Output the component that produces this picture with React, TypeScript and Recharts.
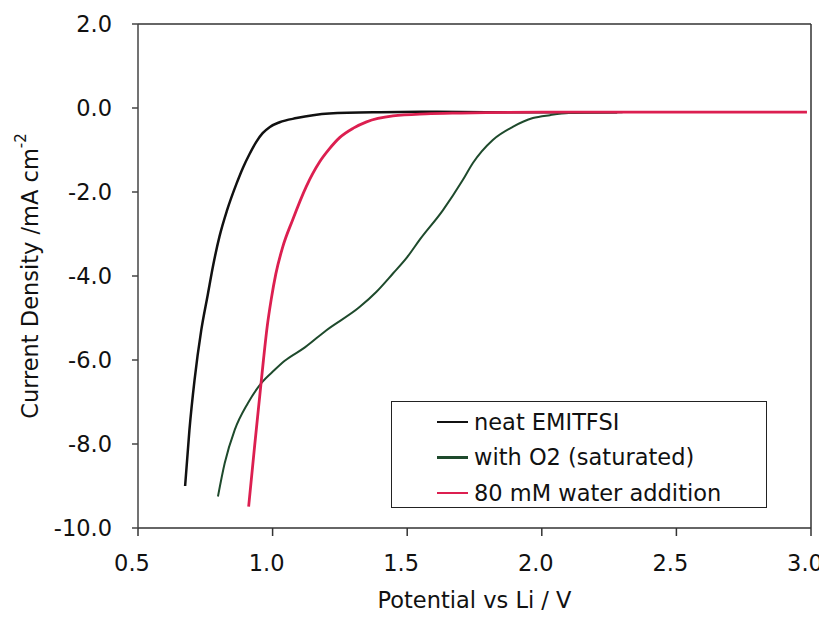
import { LineChart, Line, XAxis, YAxis, ReferenceLine } from "recharts";

const FONT = "'DejaVu Sans', sans-serif";

// neat EMITFSI
const neatPotential = [0.675, 0.691, 0.71, 0.735, 0.759, 0.78, 0.803, 0.83, 0.866, 0.89, 0.914, 0.94, 0.963, 0.99, 1.026, 1.089, 1.15, 1.21, 1.4, 1.6, 1.8, 2.0, 2.28];
const neatCurrent = [-9.0, -7.67, -6.48, -5.29, -4.45, -3.72, -3.05, -2.45, -1.8, -1.42, -1.1, -0.8, -0.6, -0.45, -0.34, -0.24, -0.17, -0.13, -0.1, -0.09, -0.1, -0.1, -0.1];

// with O2 (saturated)
const o2Potential = [0.797, 0.822, 0.859, 0.908, 0.958, 1.007, 1.045, 1.12, 1.2, 1.323, 1.385, 1.447, 1.5, 1.546, 1.633, 1.707, 1.744, 1.818, 1.892, 1.967, 2.03, 2.1, 2.3];
const o2Current = [-9.25, -8.46, -7.67, -7.03, -6.55, -6.24, -6.02, -5.7, -5.29, -4.74, -4.38, -3.94, -3.55, -3.14, -2.43, -1.71, -1.31, -0.76, -0.45, -0.24, -0.17, -0.12, -0.1];

// 80 mM water addition
const waterPotential = [0.911, 0.933, 0.952, 0.966, 0.98, 0.995, 1.012, 1.038, 1.074, 1.125, 1.175, 1.21, 1.25, 1.3, 1.349, 1.447, 1.57, 1.7, 2.0, 2.5, 2.985];
const waterCurrent = [-9.49, -8.06, -6.87, -6.0, -5.2, -4.55, -3.95, -3.3, -2.67, -1.87, -1.28, -0.98, -0.7, -0.48, -0.33, -0.19, -0.14, -0.12, -0.1, -0.1, -0.1];

const xTicks = [0.5, 1.0, 1.5, 2.0, 2.5, 3.0];
const yTicks = [-10, -8, -6, -4, -2, 0, 2];

const seriesNames = ["neat EMITFSI", "with O2 (saturated)", "80 mM water addition"];
const seriesColors = ["#111111", "#1e4a2c", "#dc1f50"];

const zip = (xs: number[], ys: number[]) => xs.map((x, i) => ({ x, y: ys[i] }));

const series = [
  { name: seriesNames[0], color: seriesColors[0], width: 2.5, data: zip(neatPotential, neatCurrent) },
  { name: seriesNames[1], color: seriesColors[1], width: 2, data: zip(o2Potential, o2Current) },
  { name: seriesNames[2], color: seriesColors[2], width: 2.8, data: zip(waterPotential, waterCurrent) },
];

const tickStyle = { fontFamily: FONT, fontSize: 22.5, fill: "#111" };

function YLabel({ viewBox }: any) {
  const cx = viewBox.x + 22;
  const cy = viewBox.y + viewBox.height / 2;
  return (
    <text
      x={cx}
      y={cy}
      transform={`rotate(-90, ${cx}, ${cy})`}
      textAnchor="middle"
      dominantBaseline="central"
      fontFamily={FONT}
      fontSize={22.5}
      fill="#111"
    >
      Current Density /mA cm
      <tspan dy={-9} fontSize={15}>-2</tspan>
    </text>
  );
}

function XLabel({ viewBox }: any) {
  return (
    <text
      x={viewBox.x + viewBox.width / 2}
      y={viewBox.y + 72}
      textAnchor="middle"
      dominantBaseline="central"
      fontFamily={FONT}
      fontSize={22.5}
      fill="#111"
    >
      Potential vs Li / V
    </text>
  );
}

function LegendBox() {
  return (
    <div
      style={{
        position: "absolute",
        left: 383,
        top: 393,
        width: 376,
        height: 107,
        border: "1.5px solid #222",
        background: "#fff",
        fontFamily: FONT,
        fontSize: 22.5,
        color: "#111",
        boxSizing: "border-box",
        paddingTop: 2,
      }}
    >
      {series.map((s) => (
        <div key={s.name} style={{ display: "flex", alignItems: "center", height: 35.5 }}>
          <div style={{ width: 31, height: 2.5, background: s.color, marginLeft: 45, marginRight: 6 }} />
          <span>{s.name}</span>
        </div>
      ))}
    </div>
  );
}

export default function App() {
  return (
    <div style={{ position: "relative", width: 819, height: 610 }}>
      <LineChart width={819} height={610} margin={{ top: 16, right: 16, bottom: 8, left: 0 }} style={{ overflow: "visible" }}>
        <XAxis
          type="number"
          dataKey="x"
          domain={[0.5, 3.0]}
          ticks={xTicks}
          tickFormatter={(v: number) => v.toFixed(1)}
          tick={{ ...tickStyle, dx: -6 }}
          tickSize={8}
          tickMargin={19}
          height={82}
          stroke="#333"
          strokeWidth={1.5}
          allowDataOverflow
          label={<XLabel />}
        />
        <YAxis
          type="number"
          dataKey="y"
          domain={[-10, 2]}
          ticks={yTicks}
          tickFormatter={(v: number) => v.toFixed(1)}
          tick={tickStyle}
          tickSize={6}
          tickMargin={20}
          width={130}
          stroke="#444"
          strokeWidth={1.5}
          allowDataOverflow
          label={<YLabel />}
        />
        <ReferenceLine y={2} stroke="#333" strokeWidth={1.5} />
        <ReferenceLine x={3.0} stroke="#333" strokeWidth={1.5} />
        {series.map((s) => (
          <Line
            key={s.name}
            data={s.data}
            dataKey="y"
            name={s.name}
            type="monotone"
            stroke={s.color}
            strokeWidth={s.width}
            dot={false}
            isAnimationActive={false}
          />
        ))}
      </LineChart>
      <LegendBox />
    </div>
  );
}
